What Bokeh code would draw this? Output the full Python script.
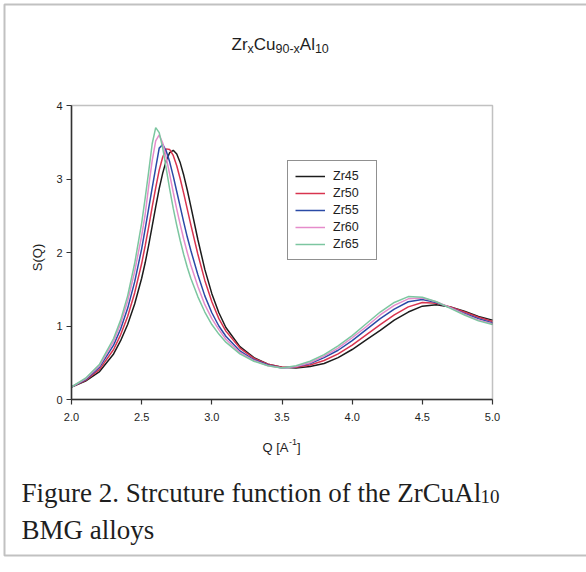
import math
from bokeh.plotting import figure
from bokeh.models import (Label, BoxAnnotation, FixedTicker, Legend, LegendItem,
                          NumeralTickFormatter, LinearAxis, Range1d)
from bokeh.embed import file_html
from bokeh.resources import INLINE

# ---------------- data ----------------
q = [2.0, 2.1, 2.2, 2.3, 2.35, 2.4, 2.45, 2.5,
     2.525, 2.55, 2.575, 2.6, 2.625, 2.65, 2.675, 2.7, 2.725, 2.75, 2.775, 2.8, 2.825, 2.85,
     2.9, 2.95, 3.0, 3.05, 3.1,
     3.2, 3.3, 3.4, 3.5, 3.6, 3.7, 3.8, 3.9, 4.0, 4.1, 4.2, 4.3, 4.4, 4.5, 4.6, 4.7, 4.8, 4.9, 5.0]

zr45 = [0.17, 0.25, 0.38, 0.62, 0.80, 1.02, 1.30, 1.65,
        1.86, 2.10, 2.36, 2.62, 2.87, 3.08, 3.25, 3.36, 3.39, 3.34, 3.22, 3.05, 2.85, 2.63,
        2.18, 1.77, 1.44, 1.18, 0.98,
        0.72, 0.57, 0.48, 0.44, 0.43, 0.45, 0.49, 0.57, 0.68, 0.81, 0.94, 1.08, 1.19, 1.27, 1.29, 1.26, 1.20, 1.13, 1.08]

zr50 = [0.17, 0.26, 0.41, 0.68, 0.88, 1.13, 1.45, 1.85,
        2.09, 2.35, 2.62, 2.88, 3.12, 3.30, 3.41, 3.40, 3.32, 3.18, 3.00, 2.80, 2.59, 2.38,
        1.98, 1.62, 1.33, 1.10, 0.93,
        0.70, 0.56, 0.48, 0.44, 0.44, 0.47, 0.53, 0.62, 0.74, 0.88, 1.02, 1.15, 1.26, 1.32, 1.31, 1.26, 1.19, 1.12, 1.06]

zr55 = [0.17, 0.27, 0.44, 0.74, 0.96, 1.24, 1.60, 2.05,
        2.32, 2.60, 2.88, 3.15, 3.42, 3.47, 3.38, 3.23, 3.04, 2.83, 2.62, 2.41, 2.21, 2.03,
        1.70, 1.41, 1.18, 1.00, 0.86,
        0.66, 0.54, 0.47, 0.43, 0.45, 0.49, 0.57, 0.67, 0.80, 0.95, 1.10, 1.23, 1.33, 1.36, 1.32, 1.25, 1.17, 1.10, 1.04]

zr60 = [0.17, 0.28, 0.46, 0.79, 1.03, 1.34, 1.74, 2.23,
        2.52, 2.90, 3.25, 3.52, 3.60, 3.49, 3.29, 3.06, 2.82, 2.59, 2.38, 2.18, 2.00, 1.83,
        1.54, 1.29, 1.10, 0.95, 0.82,
        0.64, 0.53, 0.46, 0.43, 0.45, 0.50, 0.59, 0.70, 0.84, 0.99, 1.15, 1.28, 1.37, 1.38, 1.33, 1.25, 1.16, 1.08, 1.03]

zr65 = [0.17, 0.29, 0.48, 0.83, 1.08, 1.41, 1.85, 2.40,
        2.74, 3.10, 3.48, 3.70, 3.63, 3.42, 3.14, 2.86, 2.60, 2.37, 2.16, 1.97, 1.80, 1.65,
        1.40, 1.19, 1.02, 0.89, 0.78,
        0.62, 0.52, 0.46, 0.43, 0.46, 0.52, 0.61, 0.73, 0.87, 1.03, 1.19, 1.32, 1.40, 1.39, 1.33, 1.24, 1.15, 1.07, 1.02]

series_names = ["Zr45", "Zr50", "Zr55", "Zr60", "Zr65"]
series_values = [zr45, zr50, zr55, zr60, zr65]
series_colors = ["#1c1c1c", "#d8344f", "#2a4aa6", "#e58ccb", "#7cc6a0"]

x_ticks = [2.0, 2.5, 3.0, 3.5, 4.0, 4.5, 5.0]
y_ticks = [0, 1, 2, 3, 4]
x_bounds = (2.0, 5.0)
y_bounds = (0.0, 4.0)

# ---------------- layout ----------------
W, H = 586, 572
# where the chart box sits on the page (pixels)
BOX_L, BOX_R, BOX_T, BOX_B = 71, 492, 105, 399
kx = (BOX_R - BOX_L) / (x_bounds[1] - x_bounds[0])
ky = (BOX_B - BOX_T) / (y_bounds[1] - y_bounds[0])
# the plotting frame covers the whole page, so the ranges extend past the chart box
x_range = Range1d(x_bounds[0] - BOX_L / kx, x_bounds[1] + (W - BOX_R) / kx)
y_range = Range1d(y_bounds[0] - (H - BOX_B) / ky, y_bounds[1] + BOX_T / ky)

SANS = "Liberation Sans"
SERIF = "Liberation Serif"
INK = "#1e1e1e"

p = figure(width=W, height=H, x_range=x_range, y_range=y_range,
           output_backend="svg", toolbar_location=None,
           x_axis_location=None, y_axis_location=None,
           min_border=0, min_border_left=0, min_border_right=0,
           min_border_top=0, min_border_bottom=0)
p.title.visible = False
p.background_fill_color = "white"
p.border_fill_color = "white"
p.xgrid.visible = False
p.ygrid.visible = False
p.outline_line_color = None

# chart box (top and right edges of the plot area)
p.add_layout(BoxAnnotation(left=x_bounds[0], right=x_bounds[1],
                           bottom=y_bounds[0], top=y_bounds[1],
                           fill_alpha=0, line_color="#333333", line_width=1.5))

renderers = []
for name, vals, col in zip(series_names, series_values, series_colors):
    r = p.line(q, vals, line_color=col, line_width=1.5)
    renderers.append((name, r))

# axes, pinned to the chart box
xaxis = LinearAxis(fixed_location=y_bounds[0], bounds=x_bounds,
                   ticker=FixedTicker(ticks=x_ticks, minor_ticks=[]),
                   formatter=NumeralTickFormatter(format="0.0"))
yaxis = LinearAxis(fixed_location=x_bounds[0], bounds=y_bounds,
                   ticker=FixedTicker(ticks=y_ticks, minor_ticks=[]),
                   formatter=NumeralTickFormatter(format="0"))
for ax in (xaxis, yaxis):
    ax.axis_line_color = "#333333"
    ax.axis_line_width = 1.5
    ax.major_tick_line_color = "#333333"
    ax.major_tick_line_width = 1.2
    ax.major_tick_in = 0
    ax.major_tick_out = 5
    ax.minor_tick_line_color = None
    ax.major_label_text_font = SANS
    ax.major_label_text_font_size = "11px"
    ax.major_label_text_color = INK
xaxis.major_label_standoff = 8
yaxis.major_label_standoff = 4
p.add_layout(xaxis, "below")
p.add_layout(yaxis, "left")


def sx(px):
    return px


def sy(py):
    return H - py


# legend
legend = Legend(items=[LegendItem(label=n, renderers=[r]) for n, r in renderers],
                location=(sx(287), sy(260)))
legend.border_line_color = "#222222"
legend.border_line_width = 1.2
legend.background_fill_color = "white"
legend.background_fill_alpha = 1.0
legend.padding = 7
legend.spacing = 1
legend.margin = 0
legend.glyph_width = 30
legend.glyph_height = 16
legend.label_height = 16
legend.label_width = 36
legend.label_standoff = 8
legend.label_text_font = SANS
legend.label_text_font_size = "12.5px"
legend.label_text_color = INK
p.add_layout(legend)


def lab(text, px, py, size, font=SANS, align="left", baseline="alphabetic", angle=0.0):
    p.add_layout(Label(x=sx(px), y=sy(py), x_units="screen", y_units="screen",
                       text=text, text_font=font, text_font_size=size,
                       text_color=INK, text_align=align, text_baseline=baseline,
                       angle=angle))


# chart title  Zr_x Cu_(90-x) Al_10
lab("Zr", 231, 44, "17px")
lab("x", 247, 48, "12.5px")
lab("Cu", 253.3, 44, "17px")
lab("90-x", 275, 48, "12.5px")
lab("Al", 299.3, 44, "17px")
lab("10", 314.4, 48, "12.5px")

# axis titles
lab("S(Q)", 37, 257, "13px", align="center", baseline="middle", angle=math.pi / 2)
lab("Q [A", 262, 447, "13px")
lab("-1", 288.5, 441, "9px")
lab("]", 296.5, 447, "13px")

# caption
lab("Figure 2. Strcuture function of the ZrCuAl", 21, 492, "27px", font=SERIF)
lab("10", 480, 496, "19px", font=SERIF)
lab("BMG alloys", 21, 529, "27px", font=SERIF)

# outer frame of the figure panel
p.add_layout(BoxAnnotation(left=sx(4), right=sx(600), top=sy(4), bottom=sy(555),
                           left_units="screen", right_units="screen",
                           top_units="screen", bottom_units="screen",
                           fill_alpha=0, line_color="#333333", line_width=2))

open("out.html", "w").write(file_html(p, INLINE))
